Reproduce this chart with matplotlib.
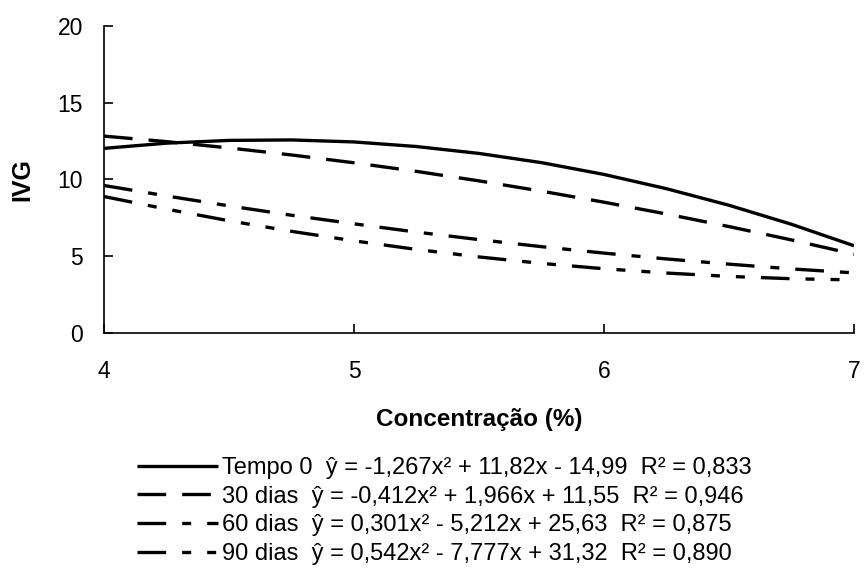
import matplotlib
matplotlib.use("Agg")
import matplotlib.pyplot as plt

plt.rcParams['font.family'] = ['Liberation Sans', 'DejaVu Sans']

# Concentration (%) and IVG values
concentracao = [4.0, 4.25, 4.5, 4.75, 5.0, 5.25, 5.5, 5.75, 6.0, 6.25, 6.5, 6.75, 7.0]
tempo0 = [12.02, 12.36, 12.54, 12.57, 12.44, 12.14, 11.69, 11.09, 10.32, 9.39, 8.31, 7.07, 5.67]
dias30 = [12.82, 12.46, 12.05, 11.59, 11.08, 10.52, 9.90, 9.23, 8.51, 7.74, 6.92, 6.05, 5.12]
dias60 = [9.60, 8.92, 8.27, 7.66, 7.10, 6.56, 6.07, 5.61, 5.19, 4.81, 4.47, 4.16, 3.90]
dias90 = [8.88, 8.06, 7.30, 6.61, 5.99, 5.43, 4.94, 4.52, 4.17, 3.89, 3.67, 3.52, 3.44]

labels = [
    "Tempo 0  ŷ = -1,267x² + 11,82x - 14,99  R² = 0,833",
    "30 dias  ŷ = -0,412x² + 1,966x + 11,55  R² = 0,946",
    "60 dias  ŷ = 0,301x² - 5,212x + 25,63  R² = 0,875",
    "90 dias  ŷ = 0,542x² - 7,777x + 31,32  R² = 0,890",
]
xticks = [4, 5, 6, 7]
yticks = [0, 5, 10, 15, 20]

fig = plt.figure(figsize=(8.64, 5.82), dpi=100)
ax = fig.add_axes([104/864, 1 - 332.7/582, 750/864, (332.7 - 26)/582])

lw = 2.4
L, G, S = 8.6, 4.8, 2.7
styles = [
    '-',
    (0, (L, G)),
    (0, (L, G, S, G)),
    (0, (L, G, S, G, S, G)),
]
series = [tempo0, dias30, dias60, dias90]
handles = []
for ys, st, lab in zip(series, styles, labels):
    h, = ax.plot(concentracao, ys, color='black', lw=lw, linestyle=st,
                 label=lab, solid_capstyle='butt', dash_capstyle='butt')
    handles.append(h)

ax.set_xlim(4, 7)
ax.set_ylim(0, 20)
ax.set_xticks(xticks)
ax.set_yticks(yticks)
ax.set_xticklabels([str(v) for v in xticks])
ax.set_yticklabels([str(v) for v in yticks])
for side in ['top', 'right']:
    ax.spines[side].set_visible(False)
for side in ['left', 'bottom']:
    ax.spines[side].set_linewidth(1.2)
    ax.spines[side].set_color('black')
ax.tick_params(axis='both', direction='in', length=6.5, width=1.2, labelsize=16.5, colors='black')
ax.tick_params(axis='y', pad=15)
ax.tick_params(axis='x', pad=20)
ax.set_xlabel("Concentração (%)", fontsize=17.5, fontweight='bold', labelpad=18)
ax.set_ylabel("IVG", fontsize=18, fontweight='bold', labelpad=17)

fig.legend(handles=handles, labels=labels, loc='upper left',
           bbox_to_anchor=(137/864, 1 - 457/582), frameon=False,
           fontsize=17, handlelength=3.45, handletextpad=0.17,
           labelspacing=0.28, borderpad=0, borderaxespad=0)

fig.savefig("out.png", dpi=100)
